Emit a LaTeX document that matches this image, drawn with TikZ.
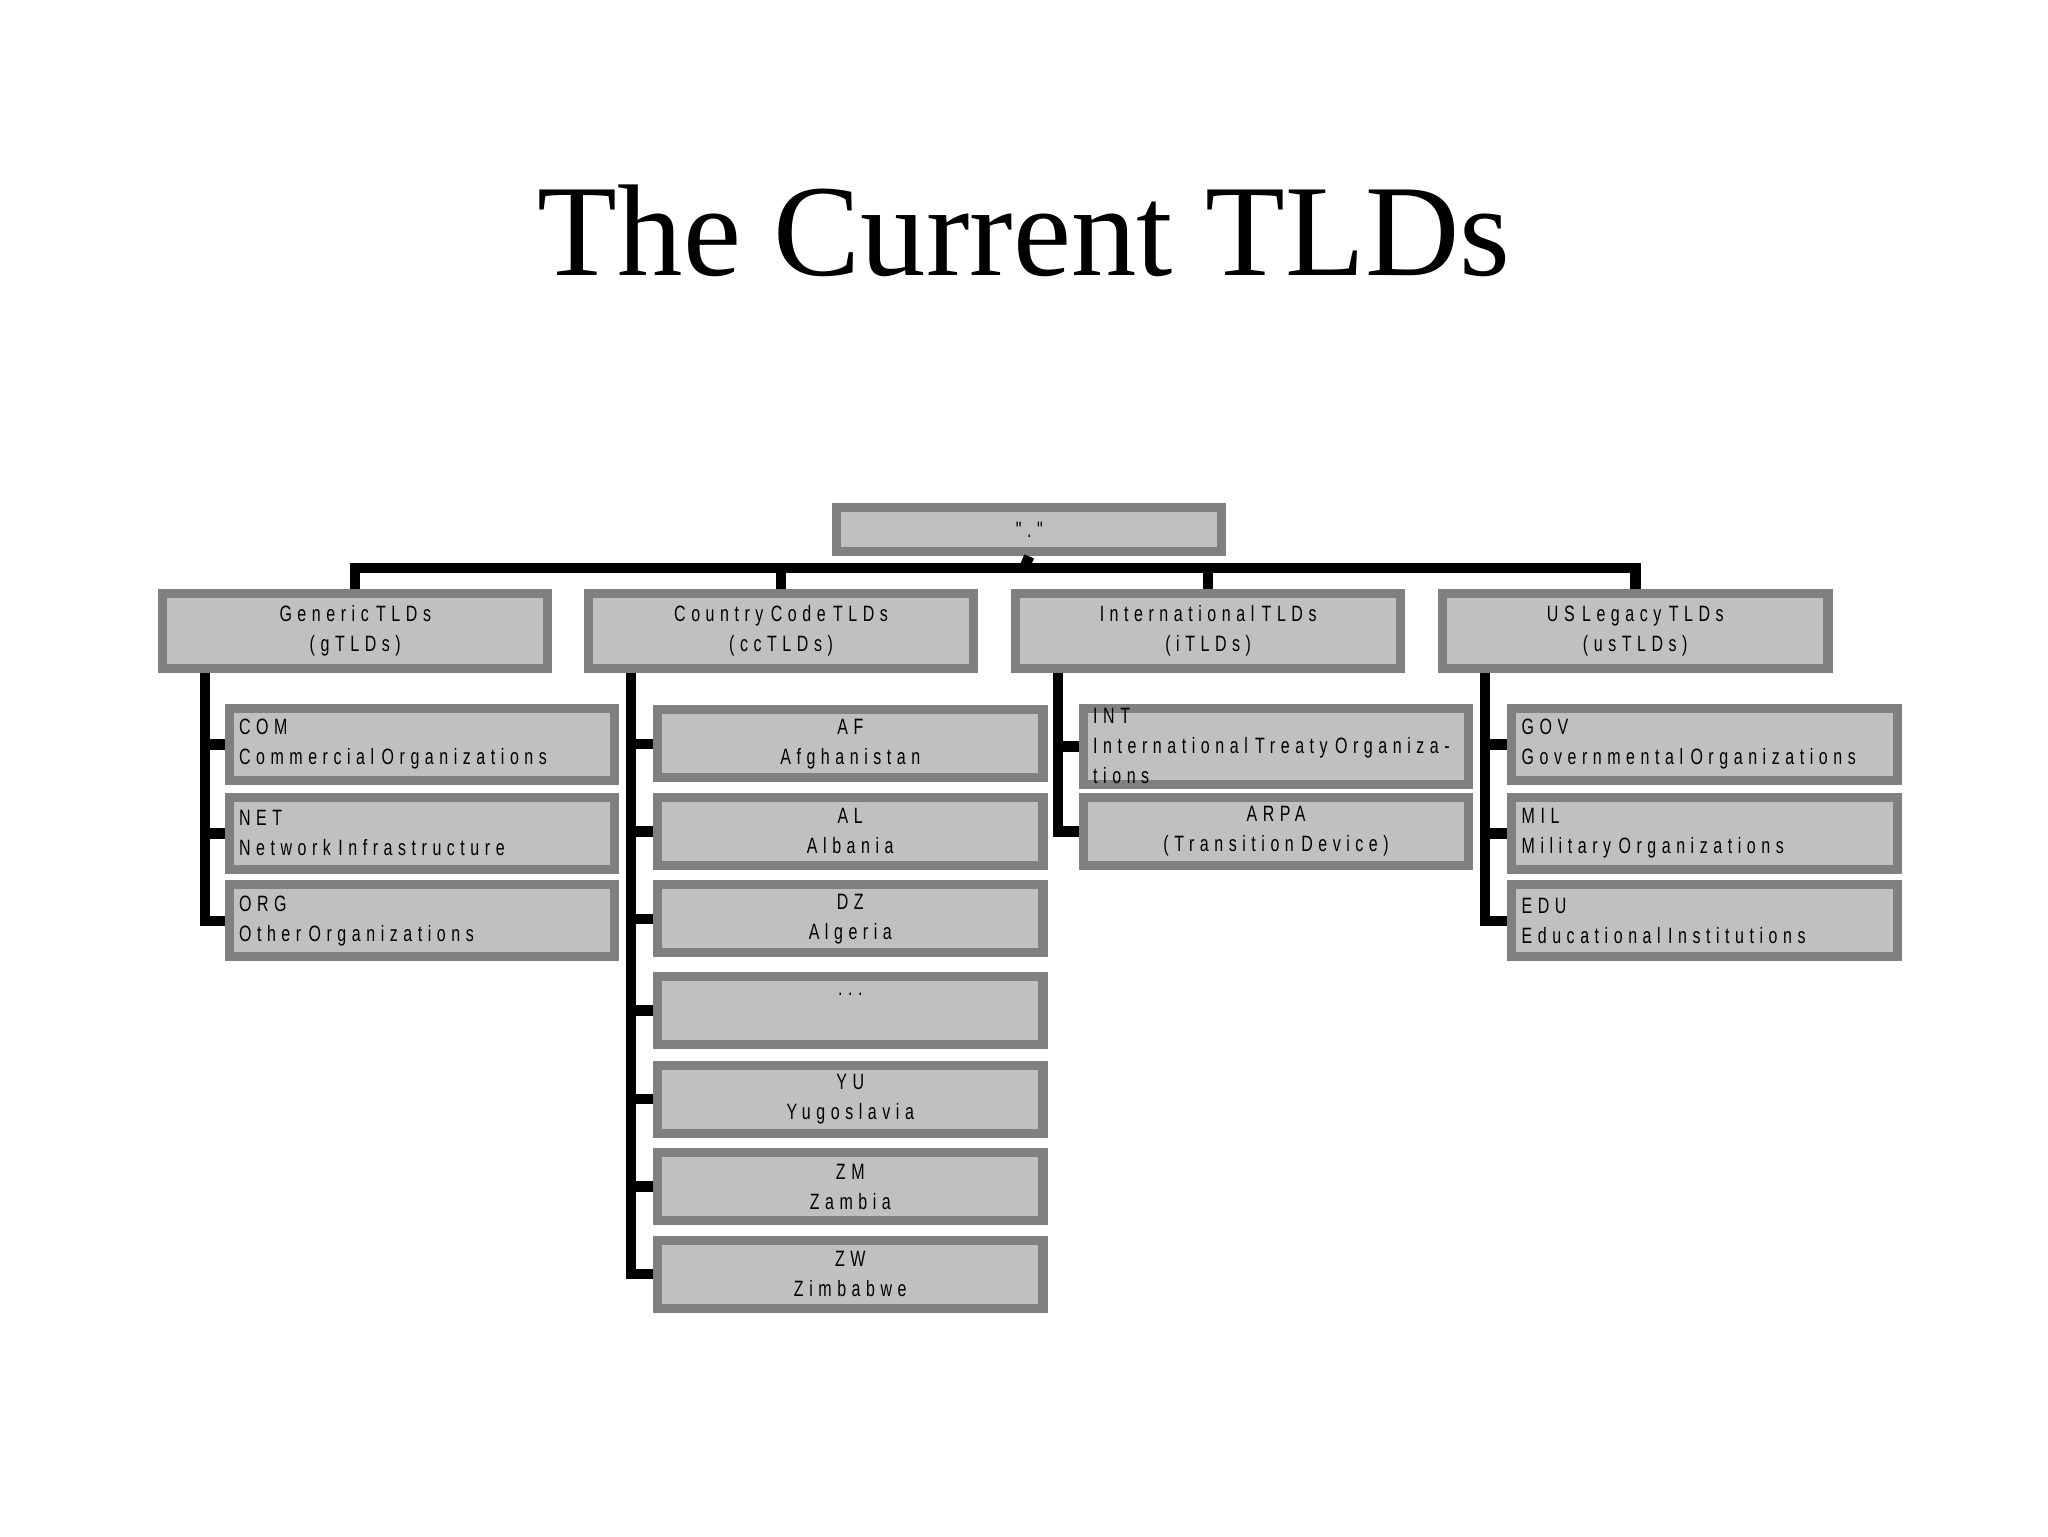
\documentclass[tikz,border=0pt]{standalone}
\usepackage{fontspec}
\setmainfont{Liberation Serif}
\newfontfamily\bxf[LetterSpace=25,FakeStretch=0.72]{Liberation Sans}
\definecolor{bord}{HTML}{808080}
\definecolor{fil}{HTML}{C0C0C0}
\begin{document}
\begin{tikzpicture}[x=1pt,y=-1pt,
  bx/.style={draw=bord,fill=fil,line width=7pt,anchor=north west,inner sep=0pt,
     minimum width=295pt,font=\bxf\fontsize{17}{23}\selectfont},
  cb/.style={bx,align=center,text width=270pt},
  lb/.style={bx,align=left,text width=280pt},
  conn/.style={line width=8pt,draw=black}]
\useasboundingbox (0,0) rectangle (1568,1176);
\node[font=\fontsize{100}{110}\selectfont] (title) at (784,177) {The Current TLDs};
\node[cb,minimum height=34pt] (root) at (637,385) {"."};
% level 1
\foreach \n/\x/\a/\b in {g/121/Generic TLDs/(gTLDs),c/447/Country Code TLDs/(ccTLDs),i/774/International TLDs/(iTLDs),u/1101/US Legacy TLDs/(usTLDs)}
  \node[cb,minimum height=57pt] (\n) at (\x,451) {\a\\\b};
\coordinate (bus) at (784,435);
\draw[conn] (root.south) -- (bus);
\draw[conn] (g.north) |- (bus) -| (u.north);
\draw[conn] (c.north) -- (c.north |- bus);
\draw[conn] (i.north) -- (i.north |- bus);
% children
\newcommand\cy[1]{\fontsize{17}{23}\selectfont}
\foreach \n/\y/\a/\b in {g1/539/COM/Commercial Organizations,g2/607/NET/Network Infrastructure,g3/674/ORG/Other Organizations}
  \node[lb,minimum height=55pt] (\n) at (172,\y) {\a\\\b};
\foreach \n/\y/\a/\b in {c1/540/AF/Afghanistan,c2/607/AL/Albania,c3/674/DZ/Algeria,c5/812/YU/Yugoslavia,c6/879/ZM/Zambia,c7/946/ZW/Zimbabwe}
  \node[cb,minimum height=52pt] (\n) at (500,\y) {\a\\\b};
\node[cb,minimum height=52pt,text depth=24pt] (c4) at (500,744) {...};
\node[lb,minimum height=55pt] (i1) at (826,539) {INT\\International Treaty Organizations};
\node[cb,minimum height=52pt] (i2) at (826,607) {ARPA\\(Transition Device)};
\foreach \n/\y/\a/\b in {u1/539/GOV/Governmental Organizations,u2/607/MIL/Military Organizations,u3/674/EDU/Educational Institutions}
  \node[lb,minimum height=55pt] (\n) at (1154,\y) {\a\\\b};
\foreach \p/\l in {g/{g1,g2,g3},c/{c1,c2,c3,c4,c5,c6,c7},i/{i1,i2},u/{u1,u2,u3}}
  \foreach \k in \l
    \draw[conn,line join=miter] ([xshift=36pt]\p.south west) |- (\k.west);
\end{tikzpicture}
\end{document}
